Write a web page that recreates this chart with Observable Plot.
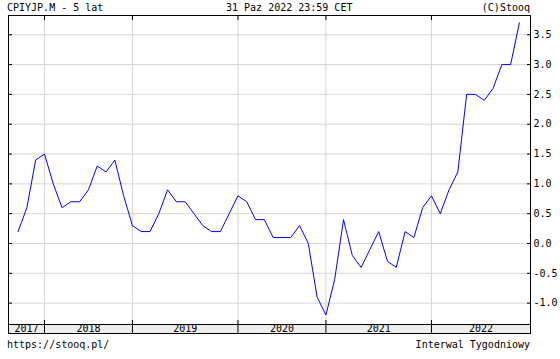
<!DOCTYPE html>
<html>
<head>
<meta charset="utf-8">
<script src="https://cdn.jsdelivr.net/npm/d3@7"></script>
<script src="https://cdn.jsdelivr.net/npm/@observablehq/plot@0.6"></script>
<style>
  html, body { margin: 0; padding: 0; background: #ffffff; }
  #wrap { position: relative; width: 560px; height: 359px; overflow: hidden;
          font-family: "DejaVu Sans Mono", monospace; font-size: 10px; color: #000; }
  .t { position: absolute; white-space: pre; line-height: 10px; z-index: 2; }
  .chart { position: absolute; left: 0; }
</style>
</head>
<body>
<div id="wrap"></div>
<script>
// ---- data ----
const titleLeft = "CPIYJP.M - 5 lat";
const titleCenter = "31 Paz 2022 23:59 CET";
const credit = "(C)Stooq";
const footerLeft = "https://stooq.pl/";
const footerRight = "Interwal Tygodniowy";

// monthly CPI YoY values (%), in order of the plotted points
const cpiValues = [
  0.2, 0.6, 1.4,
  1.5, 1.0, 0.6, 0.7, 0.7, 0.9, 1.3, 1.2, 1.4, 0.8,
  0.3, 0.2, 0.2, 0.5, 0.9, 0.7, 0.7, 0.5, 0.3, 0.2, 0.2, 0.5,
  0.8, 0.7, 0.4, 0.4, 0.1, 0.1, 0.1, 0.3, 0.0, -0.9,
  -1.2, -0.6, 0.4, -0.2, -0.4, -0.1, 0.2, -0.3, -0.4, 0.2, 0.1, 0.6,
  0.8, 0.5, 0.9, 1.2, 2.5, 2.5, 2.4, 2.6, 3.0, 3.0, 3.7
];
const yearLabels = ["2017", "2018", "2019", "2020", "2021", "2022"];
const yearStartIdx = [3, 13, 25, 35, 47];        // point index where each new year starts
const yTicks = [-1.0, -0.5, 0.0, 0.5, 1.0, 1.5, 2.0, 2.5, 3.0, 3.5];
const xDomain = [-1.09, 58.26];
const yDomain = [-1.358, 3.823];

// ---- build ----
const data = cpiValues.map((v, i) => ({i, v}));
const bounds = [xDomain[0], ...yearStartIdx, xDomain[1]];
const bandLabels = yearLabels.map((label, k) => ({label, mid: (bounds[k] + bounds[k + 1]) / 2}));

const FONT = {fontFamily: "DejaVu Sans Mono, monospace", fontSize: "10px", color: "black",
              background: "transparent", overflow: "visible"};
const GRID = "#d4d4d4";
const blank = () => "";

const main = Plot.plot({
  width: 560, height: 325,
  marginLeft: 8, marginRight: 30, marginTop: 15, marginBottom: 1,
  style: FONT,
  x: {type: "linear", domain: xDomain, axis: null},
  y: {type: "linear", domain: yDomain, axis: null},
  marks: [
    Plot.ruleY(yTicks, {stroke: GRID}),
    Plot.ruleX(yearStartIdx, {stroke: GRID}),
    Plot.line(data, {x: "i", y: "v", stroke: "#0000ff", strokeWidth: 1}),
    Plot.frame({stroke: "black"}),
    Plot.axisY(yTicks, {anchor: "right", tickSize: 0, tickPadding: 3, tickFormat: d => d.toFixed(1), label: null}),
    Plot.axisY(yTicks, {anchor: "right", tickSize: 4, dx: -4, tickFormat: blank, label: null}),
    Plot.axisY(yTicks, {anchor: "left", tickSize: 4, dx: 4, tickFormat: blank, label: null}),
    Plot.axisX(yearStartIdx, {anchor: "top", tickSize: 4, dy: 4, tickFormat: blank, label: null}),
    Plot.axisX(yearStartIdx, {anchor: "bottom", tickSize: 4, dy: -4, tickFormat: blank, label: null})
  ]
});
main.classList.add("chart");
main.style.top = "0px";

const band = Plot.plot({
  width: 560, height: 10,
  marginLeft: 8, marginRight: 30, marginTop: 0, marginBottom: 1,
  style: FONT,
  x: {type: "linear", domain: xDomain, axis: null},
  y: {domain: [0, 1], axis: null},
  marks: [
    Plot.frame({fill: "#eeeeee", stroke: "black"}),
    Plot.ruleX(yearStartIdx, {stroke: "black"}),
    Plot.text(bandLabels, {x: "mid", text: "label", frameAnchor: "middle", fill: "black"})
  ]
});
band.classList.add("chart");
band.style.top = "324px";

const wrap = document.getElementById("wrap");
wrap.appendChild(main);
wrap.appendChild(band);

function addText(str, css) {
  const d = document.createElement("div");
  d.className = "t";
  d.textContent = str;
  Object.assign(d.style, css);
  wrap.appendChild(d);
}
addText(titleLeft, {left: "7px", top: "3px"});
addText(titleCenter, {left: "226px", top: "3px"});
addText(credit, {right: "30px", top: "3px"});
addText(footerLeft, {left: "7px", top: "340px"});
addText(footerRight, {right: "30px", top: "340px"});
</script>
</body>
</html>
